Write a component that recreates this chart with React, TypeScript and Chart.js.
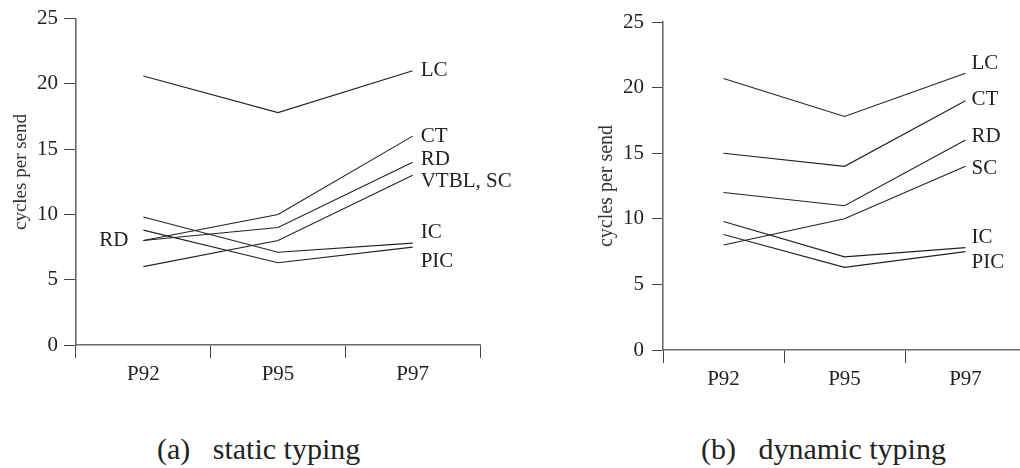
import React, { useEffect, useRef } from "react";
import { Chart, registerables } from "chart.js";

Chart.register(...registerables);

// ---------- data ----------
const categories = ["P92", "P95", "P97"];
const yMin = 0;
const yMax = 25;
const yStep = 5;

// (a) static typing
const staticLC = [20.6, 17.8, 21.0];
const staticCT = [8.0, 10.0, 16.0];
const staticRD = [8.0, 9.0, 14.0];
const staticVTBLSC = [6.0, 8.0, 13.0];
const staticIC = [9.8, 7.1, 7.8];
const staticPIC = [8.8, 6.3, 7.5];
const staticEndLabels = ["LC", "CT", "RD", "VTBL, SC", "IC", "PIC"];
const staticEndLabelValues = [21.0, 16.0, 14.2, 12.5, 8.6, 6.4];
const staticStartLabels = ["RD"];
const staticStartLabelValues = [8.0];

// (b) dynamic typing
const dynamicLC = [20.7, 17.8, 21.1];
const dynamicCT = [15.0, 14.0, 19.0];
const dynamicRD = [12.0, 11.0, 16.0];
const dynamicSC = [8.0, 10.0, 14.0];
const dynamicIC = [9.8, 7.1, 7.8];
const dynamicPIC = [8.8, 6.3, 7.5];
const dynamicEndLabels = ["LC", "CT", "RD", "SC", "IC", "PIC"];
const dynamicEndLabelValues = [21.85, 19.1, 16.3, 13.85, 8.6, 6.7];

const yTitle = "cycles per send";
const captionA = "(a)   static typing";
const captionB = "(b)   dynamic typing";

// ---------- styling ----------
const FONT =
  '"Liberation Serif", "Times New Roman", Times, Tinos, "Noto Serif", FreeSerif, "DejaVu Serif", serif';
const INK = "#222";
const AXIS = "#6a6a6a";

type Geo = {
  left: number;
  width: number;
  height: number;
  yAxisWidth: number;
  padTop: number;
  padRight: number;
  xAxisHeight: number;
  titleX: number;
  titleY: number;
  titleSize: number;
  tickLen: number;
  tickPad: number;
  labelDx: number;
};

type PanelProps = {
  series: number[][];
  endLabels: string[];
  endLabelValues: number[];
  startLabels?: string[];
  startLabelValues?: number[];
  geo: Geo;
};

function Panel({ series, endLabels, endLabelValues, startLabels = [], startLabelValues = [], geo }: PanelProps) {
  const ref = useRef<HTMLCanvasElement | null>(null);

  useEffect(() => {
    if (!ref.current) return;

    const labelPlugin = {
      id: "labelsPlugin",
      afterDatasetsDraw(chart: any) {
        const { ctx } = chart;
        const xs = chart.scales.x;
        const ys = chart.scales.y;
        ctx.save();
        ctx.fillStyle = INK;
        ctx.font = `21px ${FONT}`;
        ctx.textBaseline = "middle";
        ctx.textAlign = "left";
        const xe = xs.getPixelForValue(categories.length - 1) + geo.labelDx;
        endLabels.forEach((t, i) => {
          ctx.fillText(t, xe, ys.getPixelForValue(endLabelValues[i]));
        });
        ctx.textAlign = "right";
        const xsStart = xs.getPixelForValue(0) - 15;
        startLabels.forEach((t, i) => {
          ctx.fillText(t, xsStart, ys.getPixelForValue(startLabelValues[i]));
        });
        // axis title
        ctx.fillStyle = "#333";
        ctx.font = `${geo.titleSize}px ${FONT}`;
        ctx.textAlign = "center";
        ctx.translate(geo.titleX, geo.titleY);
        ctx.rotate(-Math.PI / 2);
        ctx.fillText(yTitle, 0, 0);
        ctx.restore();
      },
    };

    const chart = new Chart(ref.current, {
      type: "line",
      data: {
        labels: categories,
        datasets: series.map((d) => ({
          data: d,
          borderColor: INK,
          borderWidth: 1.1,
          pointRadius: 0,
          tension: 0,
          fill: false,
        })),
      },
      options: {
        responsive: false,
        animation: false,
        devicePixelRatio: 1,
        layout: { padding: { top: geo.padTop, right: geo.padRight, bottom: 0, left: 0 } },
        plugins: { legend: { display: false }, tooltip: { enabled: false } },
        scales: {
          x: {
            type: "category",
            offset: true,
            grid: {
              offset: true,
              drawOnChartArea: false,
              drawTicks: true,
              tickLength: 13,
              color: "#444",
              lineWidth: 1,
            },
            border: { display: true, color: AXIS, width: 1.6 },
            ticks: { color: INK, font: { family: FONT, size: 21 }, padding: 4, maxRotation: 0 },
            afterFit: (s: any) => {
              s.height = geo.xAxisHeight;
            },
          },
          y: {
            min: yMin,
            max: yMax,
            ticks: { stepSize: yStep, color: INK, font: { family: FONT, size: 21 }, padding: geo.tickPad },
            grid: {
              drawOnChartArea: false,
              drawTicks: true,
              tickLength: geo.tickLen,
              color: "#444",
              lineWidth: 1,
            },
            border: { display: true, color: AXIS, width: 1.6 },
            afterFit: (s: any) => {
              s.width = geo.yAxisWidth;
            },
          },
        },
      },
      plugins: [labelPlugin],
    });
    return () => chart.destroy();
  }, []);

  return (
    <canvas
      ref={ref}
      width={geo.width}
      height={geo.height}
      style={{ position: "absolute", left: geo.left, top: 0, width: geo.width, height: geo.height }}
    />
  );
}

const geoA: Geo = {
  left: 0,
  width: 540,
  height: 400,
  yAxisWidth: 76,
  padTop: 16,
  padRight: 60,
  xAxisHeight: 55,
  titleX: 21,
  titleY: 172,
  titleSize: 19,
  tickLen: 12,
  tickPad: 6,
  labelDx: 8,
};

const geoB: Geo = {
  left: 520,
  width: 520,
  height: 400,
  yAxisWidth: 143,
  padTop: 22,
  padRight: 14,
  xAxisHeight: 50,
  titleX: 87,
  titleY: 186,
  titleSize: 20,
  tickLen: 11,
  tickPad: 8,
  labelDx: 6,
};

export default function App() {
  const captionStyle: React.CSSProperties = {
    position: "absolute",
    top: 434,
    fontFamily: FONT,
    fontSize: 30,
    lineHeight: "30px",
    color: INK,
    whiteSpace: "pre",
  };
  return (
    <div
      style={{
        position: "fixed",
        left: 0,
        top: 0,
        width: 1020,
        height: 468,
        overflow: "hidden",
        background: "#fff",
      }}
    >
      <Panel
        series={[staticLC, staticCT, staticRD, staticVTBLSC, staticIC, staticPIC]}
        endLabels={staticEndLabels}
        endLabelValues={staticEndLabelValues}
        startLabels={staticStartLabels}
        startLabelValues={staticStartLabelValues}
        geo={geoA}
      />
      <Panel
        series={[dynamicLC, dynamicCT, dynamicRD, dynamicSC, dynamicIC, dynamicPIC]}
        endLabels={dynamicEndLabels}
        endLabelValues={dynamicEndLabelValues}
        geo={geoB}
      />
      <div style={{ ...captionStyle, left: 157 }}>{captionA}</div>
      <div style={{ ...captionStyle, left: 701 }}>{captionB}</div>
    </div>
  );
}
